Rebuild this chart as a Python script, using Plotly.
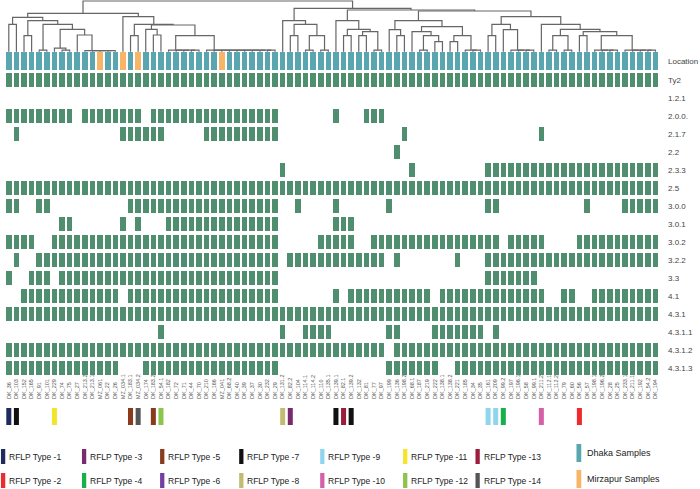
import plotly.graph_objects as go

# ---------------- data ----------------
samples = ["DK_36", "DK_103", "DK_152", "DK_165", "DK_91", "DK_101", "DK_229", "DK_74", "DK_75", "DK_27",
           "DK_213.2", "DK_213.1", "MZ_061", "DK_22", "DK_26", "MZ_034.1", "DK_183.1", "MZ_034.2", "DK_174", "DK_183.2",
           "DK_54.1", "DK_182", "DK_72", "DK_71", "DK_44", "DK_70", "DK_210", "DK_166", "MZ_041", "DK_68.2",
           "DK_40", "DK_39", "DK_37", "DK_30", "DK_232", "DK_29", "DK_131.2", "DK_82.2", "DK_104", "DK_114.1",
           "DK_114.2", "DK_110", "DK_135.1", "DK_139.1", "DK_82.1", "DK_139.2", "DK_132", "DK_81", "DK_77", "DK_97",
           "DK_199", "DK_136", "DK_198.2", "DK_68.1", "DK_187", "DK_219", "DK_222", "DK_138.1", "DK_138.2", "DK_221",
           "DK_185", "DK_34", "DK_35", "DK_161", "DK_209", "DK_99.2", "DK_197", "DK_196.1", "DK_58", "DK_99.1",
           "DK_211.2", "DK_112.1", "DK_112.2", "DK_79", "DK_60", "DK_56", "DK_57", "DK_198.1", "DK_196.2", "DK_28",
           "DK_25", "DK_233.1", "DK_211.1", "DK_192", "DK_54.2", "DK_194"]

genotypes = ["Ty2", "1.2.1", "2.0.0.", "2.1.7", "2.2", "2.3.3", "2.5", "3.0.0", "3.0.1", "3.0.2",
             "3.2.2", "3.3", "4.1", "4.3.1", "4.3.1.1", "4.3.1.2", "4.3.1.3"]

# presence of each genotype marker, as inclusive index ranges of samples
presence = {
    "Ty2": [(0, 85)],
    "1.2.1": [],
    "2.0.0.": [(0, 8), (10, 17), (19, 35), (43, 43), (47, 49)],
    "2.1.7": [(1, 1), (15, 20), (26, 35), (52, 52), (70, 70)],
    "2.2": [(51, 51)],
    "2.3.3": [(36, 36), (53, 53), (63, 85)],
    "2.5": [(0, 85)],
    "3.0.0": [(0, 1), (4, 5), (16, 35), (38, 38), (43, 43), (50, 50), (63, 64), (76, 76), (81, 85)],
    "3.0.1": [(7, 8), (15, 15), (17, 17), (21, 35), (43, 45)],
    "3.0.2": [(0, 3), (6, 35), (41, 45), (48, 64), (66, 70), (75, 85)],
    "3.2.2": [(1, 1), (4, 35), (37, 49), (51, 51), (59, 59), (63, 85)],
    "3.3": [(0, 0), (3, 5), (7, 35), (63, 69)],
    "4.1": [(2, 14), (16, 35), (43, 43), (45, 55), (57, 70), (73, 74), (77, 85)],
    "4.3.1": [(0, 85)],
    "4.3.1.1": [(20, 20), (36, 36), (39, 42), (50, 51), (56, 62), (64, 64)],
    "4.3.1.2": [(0, 49), (51, 85)],
    "4.3.1.3": [(0, 14), (18, 35), (50, 56), (59, 85)],
}

# RFLP type of the marked samples
rflp_samples = [0, 1, 6, 16, 17, 19, 20, 36, 37, 43, 44, 45, 63, 64, 65, 70, 75]
rflp_types = [1, 7, 11, 5, 14, 5, 12, 8, 3, 7, 13, 7, 9, 9, 4, 10, 2]
rflp_colors = {1: "#1f2a5e", 2: "#ee2a2f", 3: "#7a2b6e", 4: "#1aaf4d", 5: "#8a3b1c", 6: "#7140a0",
               7: "#111111", 8: "#c2bc72", 9: "#8fd6ec", 10: "#d660a8", 11: "#f4e52c", 12: "#8cc44c",
               13: "#9c1c3c", 14: "#555555"}

# dendrogram: [merge height, left, right]; leaves are sample indices
chain_10_14 = [1, 10, [1, 11, [1, 12, [1, 13, 14]]]]
chain_21_25 = [1.5, 21, [1.5, 22, [1.5, 23, [1.5, 24, 25]]]]
chain_26_35 = [1.5, 26, [1.5, 27, [1.5, 28, [1.5, 29, [1.5, 30, [1.5, 31, [1.5, 32, [1.5, 33, [1.5, 34, 35]]]]]]]]]
n88 = [22.4, [3.5, 6, [1.5, 7, 8]], [16.7, 9, chain_10_14]]
left_a = [34.4, [27.4, 0, 1], [31, [16, 2, 3], [27.4, [1.5, 4, 5], n88]]]
left_b = [35, 15, [27.4, [16, 16, 17], [26.7, [22.4, 18, [16.7, 19, 20]], [16, chain_21_25, chain_26_35]]]]
right_left = [31, 36, [27.4, [16, 37, 38], [16, [1.5, 39, 40], [1.5, 41, 42]]]]
rr1 = [31, 43, [22.4, [16, 44, 45], [20, [16, 46, 47], [1.5, 48, 49]]]]
rr2a = [31, [22, 50, [16, 51, 52]],
        [25, [20, 53, [16, [1.5, 54, 55], [10, 56, 57]]], [16, [10, 58, 59], [1.5, 60, [1.5, 61, 62]]]]]
rr2b1 = [27.4, [16, 63, 64], [22, 65, [1.5, 66, [1.5, 67, [1.5, 68, 69]]]]]
rr2b2 = [27.4, 70, [22.4, [16, [1.5, 71, 72], [1.5, 73, 74]],
                    [20, [16, 75, 76], [16, [1.5, 77, [1.5, 78, [1.5, 79, 80]]],
                                        [1.5, 81, [1.5, 82, [1.5, 83, [1.5, 84, 85]]]]]]]]
tree = [50.7, [38.4, left_a, left_b],
        [43.4, right_left, [41.7, rr1, [40.7, rr2a, [35, rr2b1, rr2b2]]]]]

legend_types_row1 = [1, 3, 5, 7, 9, 11, 13]
legend_types_row2 = [2, 4, 6, 8, 10, 12, 14]

# ---------------- styling / layout constants ----------------
W, H = 700, 489
PLOT_R = 667              # right edge of plot area in px
PITCH = 7.608             # px per sample column
X0 = 8.8                  # px center of first column
GREEN = "#4f8f6f"
TEAL = "#5aa6b0"
ORANGE = "#f7b567"
LINE = "#666666"
LEAF_Y = 51.7
ROW0_Y, ROW_DY = 80, 18
LOC_Y = 61
n = len(samples)

xr0 = -X0 / PITCH
xr1 = xr0 + PLOT_R / PITCH

fig = go.Figure()

# dendrogram
xs, ys = [], []


def walk(node):
    if isinstance(node, int):
        return node, LEAF_Y
    h, a, b = node
    xa, ya = walk(a)
    xb, yb = walk(b)
    y = LEAF_Y - h
    xs.extend([xa, xa, xb, xb, None])
    ys.extend([ya, y, y, yb, None])
    return (xa + xb) / 2, y


walk(tree)
fig.add_trace(go.Scatter(x=xs, y=ys, mode="lines", line=dict(color=LINE, width=1.2),
                         hoverinfo="skip", showlegend=False))

# location row
loc_z = [[1 if s.startswith("MZ") else 0 for s in samples]]
fig.add_trace(go.Heatmap(z=loc_z, x=list(range(n)), y0=LOC_Y, dy=18, xgap=2, ygap=0,
                         colorscale=[[0, TEAL], [1, ORANGE]], zmin=0, zmax=1,
                         showscale=False, hoverinfo="skip"))

# genotype rows
z = []
for g in genotypes:
    row = [None] * n
    for a, b in presence[g]:
        for i in range(a, b + 1):
            row[i] = 1
    z.append(row)
fig.add_trace(go.Heatmap(z=z, x=list(range(n)), y0=ROW0_Y, dy=ROW_DY, xgap=2, ygap=4,
                         colorscale=[[0, GREEN], [1, GREEN]], zmin=0, zmax=1,
                         showscale=False, hoverinfo="skip"))

# RFLP bars
fig.add_trace(go.Bar(x=rflp_samples, y=[17] * len(rflp_samples), base=408, width=0.66,
                     marker=dict(color=[rflp_colors[t] for t in rflp_types], line=dict(width=0)),
                     hoverinfo="skip", showlegend=False))

row_centers = [LOC_Y] + [ROW0_Y + ROW_DY * k for k in range(len(genotypes))]
row_labels = ["Location"] + genotypes

fig.update_layout(
    width=W, height=H, margin=dict(l=0, r=W - PLOT_R, t=0, b=0, autoexpand=False),
    paper_bgcolor="white", plot_bgcolor="white", showlegend=False,
    xaxis=dict(range=[xr0, xr1], showgrid=False, zeroline=False, showline=False,
               tickmode="array", tickvals=list(range(n)), ticktext=samples, tickangle=-90,
               tickfont=dict(size=5.5, color="#555555", family="Liberation Sans"),
               ticks="", side="top", anchor="free", position=1 - 399 / H, automargin=False),
    yaxis=dict(range=[H, 0], showgrid=False, zeroline=False, showline=False,
               tickmode="array", tickvals=row_centers, ticktext=row_labels, side="right",
               tickfont=dict(size=8, color="#444444", family="Liberation Sans"),
               ticks="", automargin=False),
)

# custom legend
col_x = [1, 86, 168, 251, 336, 423, 499]
for rowtypes, yc in ((legend_types_row1, 456.5), (legend_types_row2, 480.5)):
    for cx, t in zip(col_x, rowtypes):
        fig.add_shape(type="rect", xref="paper", yref="paper",
                      x0=cx / W, x1=(cx + 4.5) / W, y0=1 - (yc + 7.5) / H, y1=1 - (yc - 7.5) / H,
                      fillcolor=rflp_colors[t], line=dict(width=0))
        fig.add_annotation(x=(cx + 6.5) / W, y=1 - yc / H, xref="paper", yref="paper",
                           text=f"RFLP Type -{t}", showarrow=False, xanchor="left", yanchor="middle",
                           font=dict(size=8.5, color="#222222", family="Liberation Sans"))
for label, colr, yc in (("Dhaka Samples", TEAL, 453), ("Mirzapur Samples", ORANGE, 479)):
    fig.add_shape(type="rect", xref="paper", yref="paper",
                  x0=605 / W, x1=610 / W, y0=1 - (yc + 9) / H, y1=1 - (yc - 9) / H,
                  fillcolor=colr, line=dict(width=0))
    fig.add_annotation(x=614 / W, y=1 - yc / H, xref="paper", yref="paper",
                       text=label, showarrow=False, xanchor="left", yanchor="middle",
                       font=dict(size=9, color="#222222", family="Liberation Sans"))

fig.write_html("out.html", config={"displayModeBar": False},
               post_script="document.body.style.margin='0px';document.body.style.overflow='hidden';")
